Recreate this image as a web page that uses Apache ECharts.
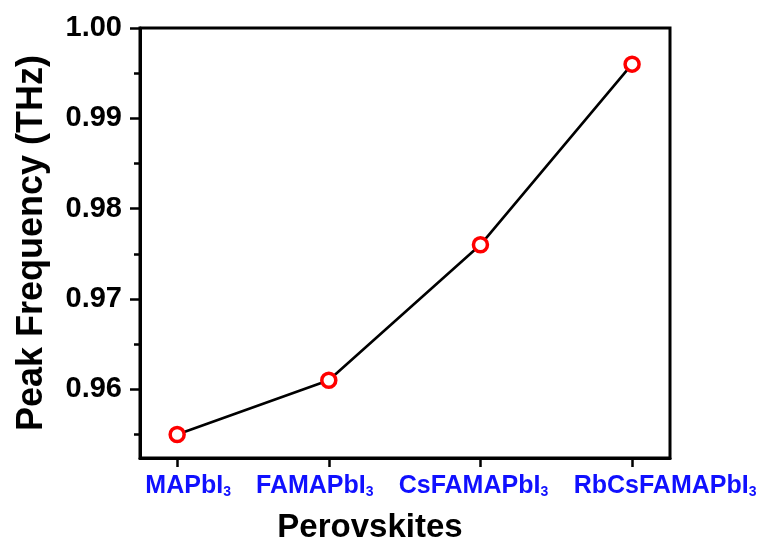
<!DOCTYPE html>
<html>
<head>
<meta charset="utf-8">
<script src="https://cdn.jsdelivr.net/npm/echarts@6/dist/echarts.min.js"></script>
<style>html,body{margin:0;padding:0;background:#fff;}#c{width:762px;height:542px;}</style>
</head>
<body>
<div id="c"></div>
<script>
var categories = ['MAPbI', 'FAMAPbI', 'CsFAMAPbI', 'RbCsFAMAPbI'];
var subscripts = ['3', '3', '3', '3'];
var peakFrequency = [0.955, 0.961, 0.976, 0.996];
var yMajorTicks = [0.96, 0.97, 0.98, 0.99, 1.00];
var yMinorTicks = [0.955, 0.965, 0.975, 0.985, 0.995];
var xTicks = [0, 1, 2, 3];

// label horizontal nudges (px) relative to tick, as in the reference
var labelShift = [11, -14, -7, 33];

var chart = echarts.init(document.getElementById('c'));
var font = '"Liberation Sans", Arial, sans-serif';
var blue = '#1010ff';
var data = peakFrequency.map(function (v, i) { return [i, v]; });

var rich = {
  m: { fontFamily: font, fontWeight: 'bold', fontSize: 25, color: blue },
  s: { fontFamily: font, fontWeight: 'bold', fontSize: 14, color: blue, verticalAlign: 'bottom', padding: [11, 0, 0, 0] }
};
labelShift.forEach(function (d, i) { rich['sp' + i] = { width: Math.abs(d) * 2, fontSize: 25 }; });

function labelFmt(v) {
  var i = Math.round(v);
  var d = labelShift[i];
  var txt = '{m|' + categories[i] + '}{s|' + subscripts[i] + '}';
  return d > 0 ? '{sp' + i + '| }' + txt : txt + '{sp' + i + '| }';
}

function xAxisBase(labelValues, showLine) {
  return {
    type: 'value', min: -0.245, max: 3.25, position: 'bottom',
    splitLine: { show: false },
    axisLine: { show: showLine, onZero: false, lineStyle: { color: '#000', width: 3 } },
    axisTick: { show: showLine, customValues: xTicks, length: 9, lineStyle: { color: '#000', width: 2.5 } },
    axisLabel: { customValues: labelValues, margin: 16, showMinLabel: true, showMaxLabel: true, hideOverlap: false,
      formatter: labelFmt, rich: rich }
  };
}

var xA = xAxisBase([xTicks[0], xTicks[2]], true);
xA.name = 'Perovskites';
xA.nameLocation = 'middle';
xA.nameGap = 53;
xA.nameTextStyle = { fontFamily: font, fontWeight: 'bold', fontSize: 33, color: '#000', padding: [0, 70, 0, 0] };
var xB = xAxisBase([xTicks[1], xTicks[3]], false);

chart.setOption({
  animation: false,
  backgroundColor: '#fff',
  grid: { left: 140, top: 28, right: 92, bottom: 84, outerBoundsMode: 'none', containLabel: false,
    show: true, borderColor: '#000', borderWidth: 3, backgroundColor: 'transparent' },
  xAxis: [xA, xB],
  yAxis: [{
    type: 'value', min: 0.9524, max: 1.0,
    splitLine: { show: false },
    axisLine: { show: true, onZero: false, lineStyle: { color: '#000', width: 3 } },
    axisTick: { show: true, customValues: yMajorTicks, length: 10, lineStyle: { color: '#000', width: 2.5 } },
    axisLabel: { customValues: yMajorTicks, margin: 18, formatter: function (v) { return v.toFixed(2); },
      fontFamily: font, fontWeight: 'bold', fontSize: 29, color: '#000' },
    name: 'Peak Frequency (THz)', nameLocation: 'middle', nameGap: 90,
    nameTextStyle: { fontFamily: font, fontWeight: 'bold', fontSize: 36, color: '#000' }
  }, {
    type: 'value', min: 0.9524, max: 1.0, position: 'left',
    splitLine: { show: false },
    axisLine: { show: false, onZero: false },
    axisTick: { show: true, customValues: yMinorTicks, length: 6, lineStyle: { color: '#000', width: 2.5 } },
    axisLabel: { show: false }
  }],
  series: [{
    type: 'line', data: data, xAxisIndex: 0, yAxisIndex: 0,
    symbol: 'circle', symbolSize: 14,
    lineStyle: { color: '#000', width: 2.6 },
    itemStyle: { color: '#fff', borderColor: '#ff0000', borderWidth: 3.5 },
    z: 5
  }]
});
</script>
</body>
</html>
